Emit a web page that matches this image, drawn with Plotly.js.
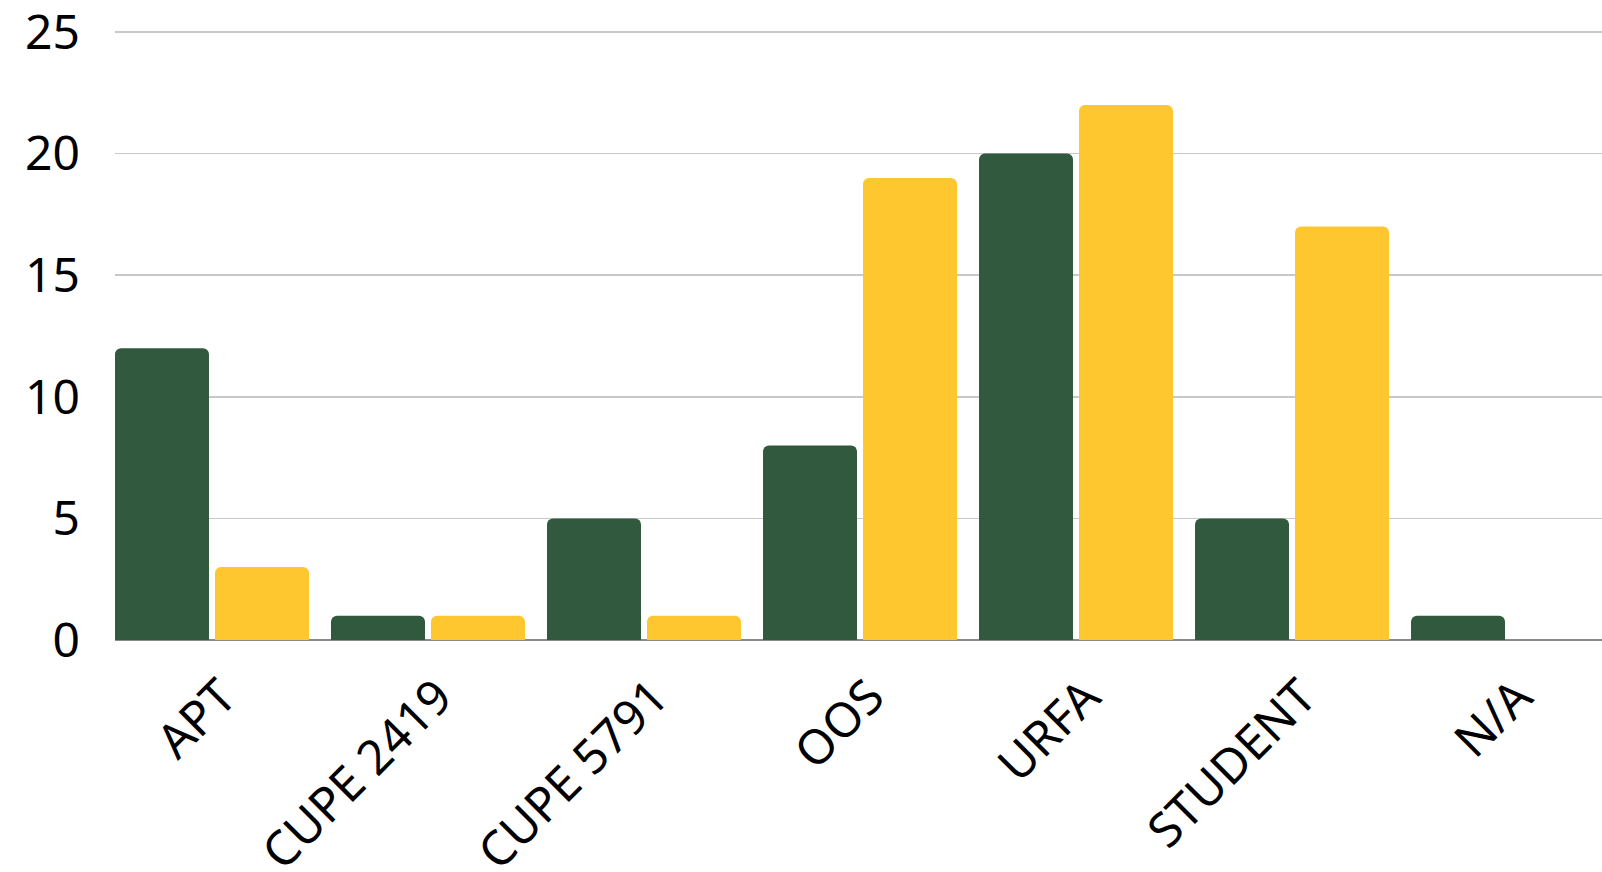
<!DOCTYPE html>
<html>
<head>
<meta charset="utf-8">
<script src="https://cdn.plot.ly/plotly-3.0.1.min.js"></script>
<style>
html,body{margin:0;padding:0;background:#fff;overflow:hidden;}
#chart{width:1602px;height:872px;}
</style>
</head>
<body>
<div id="chart"></div>
<script>
const categories = ["APT", "CUPE 2419", "CUPE 5791", "OOS", "URFA", "STUDENT", "N/A"];
const seriesGreen = [12, 1, 5, 8, 20, 5, 1];
const seriesYellow = [3, 1, 1, 19, 22, 17, 0];
const yTickVals = [0, 5, 10, 15, 20, 25];

const fontFam = "'Noto Sans', 'Open Sans', sans-serif";

const traces = [
  {type: 'bar', x: categories, y: seriesGreen, name: 'Series 1',
   marker: {color: '#30593E', cornerradius: 6}, hoverinfo: 'skip'},
  {type: 'bar', x: categories, y: seriesYellow, name: 'Series 2',
   marker: {color: '#FEC72F', cornerradius: 6}, hoverinfo: 'skip'}
];

const layout = {
  width: 1602, height: 872,
  margin: {l: 115, r: 0, t: 30, b: 232, pad: 0},
  paper_bgcolor: '#fff', plot_bgcolor: '#fff',
  showlegend: false,
  barmode: 'group',
  bargap: 0.074,
  bargroupgap: 0.06,
  xaxis: {
    type: 'category',
    range: [-0.449, 6.435],
    tickangle: -45,
    tickfont: {family: fontFam, size: 48, color: '#000'},
    showgrid: false, showline: false, zeroline: false,
    ticks: '', ticklabelstandoff: 18, ticklabelshift: 10,
    ticklabeloverflow: 'allow',
    fixedrange: true
  },
  yaxis: {
    range: [0, 25.08],
    tickvals: yTickVals,
    ticktext: yTickVals.map(String),
    tickfont: {family: fontFam, size: 48, color: '#000'},
    showgrid: true, gridcolor: '#c8c8c8', gridwidth: 1.5,
    zeroline: true, zerolinecolor: '#8a8a8a', zerolinewidth: 2,
    showline: false, ticks: '', ticklabelstandoff: 34,
    ticklabeloverflow: 'allow',
    fixedrange: true
  }
};

Plotly.newPlot('chart', traces, layout, {displayModeBar: false, staticPlot: true});
</script>
</body>
</html>
